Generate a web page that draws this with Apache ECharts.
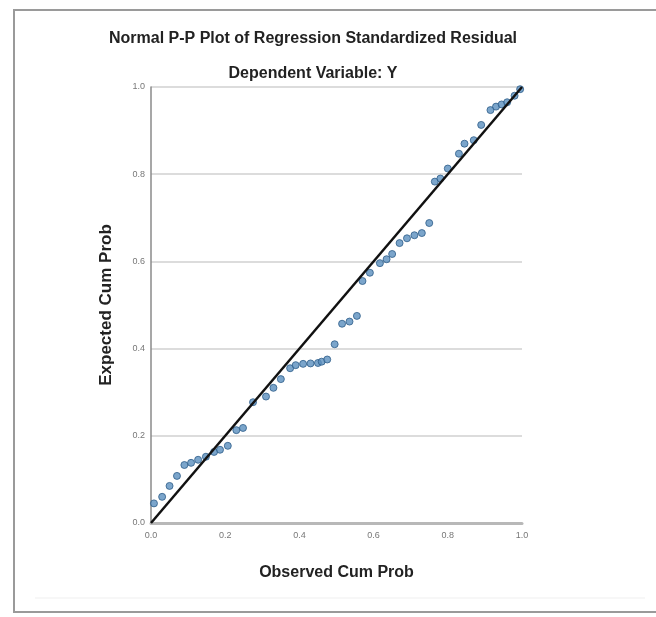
<!DOCTYPE html>
<html>
<head>
<meta charset="utf-8">
<script src="https://cdn.jsdelivr.net/npm/echarts@6/dist/echarts.min.js"></script>
<style>
  html, body { margin: 0; padding: 0; background: #fff; }
  #chart { width: 656px; height: 617px; }
</style>
</head>
<body>
<div id="chart"></div>
<script>
// Normal P-P plot data
const observed = [0.008, 0.03, 0.05, 0.07, 0.09, 0.108, 0.127, 0.148, 0.17, 0.186,
  0.207, 0.23, 0.248, 0.275, 0.31, 0.33, 0.35, 0.375, 0.39, 0.41,
  0.43, 0.45, 0.46, 0.475, 0.495, 0.515, 0.535, 0.555, 0.57, 0.59,
  0.617, 0.635, 0.65, 0.67, 0.69, 0.71, 0.73, 0.75, 0.765, 0.78,
  0.80, 0.83, 0.845, 0.87, 0.89, 0.915, 0.93, 0.945, 0.96, 0.98, 0.995];
const expected = [0.045, 0.06, 0.085, 0.108, 0.133, 0.138, 0.145, 0.152, 0.163, 0.168,
  0.177, 0.213, 0.218, 0.277, 0.29, 0.31, 0.33, 0.355, 0.362, 0.365,
  0.366, 0.367, 0.37, 0.375, 0.41, 0.457, 0.462, 0.475, 0.555, 0.574,
  0.596, 0.605, 0.617, 0.642, 0.653, 0.66, 0.665, 0.688, 0.783, 0.79,
  0.813, 0.847, 0.87, 0.878, 0.913, 0.947, 0.955, 0.96, 0.965, 0.98, 0.995];
const refLine = [[0, 0], [1, 1]];
const tickLabels = ['0.0', '0.2', '0.4', '0.6', '0.8', '1.0'];

const chart = echarts.init(document.getElementById('chart'));

const labelFmt = (v) => tickLabels[Math.round(v * 5)] || '';

const option = {
  animation: false,
  backgroundColor: '#fff',
  title: [
    {
      text: 'Normal P-P Plot of Regression Standardized Residual',
      left: 308, top: 26, textAlign: 'center',
      textStyle: { fontFamily: 'Liberation Sans', fontSize: 16, fontWeight: 'bold', color: '#222' }
    },
    {
      text: 'Dependent Variable: Y',
      left: 308, top: 61, textAlign: 'center',
      textStyle: { fontFamily: 'Liberation Sans', fontSize: 16, fontWeight: 'bold', color: '#222' }
    }
  ],
  graphic: [
    { type: 'polyline', shape: { points: [[656, 10], [14, 10], [14, 612], [656, 612]] },
      style: { fill: null, stroke: '#9a9a9a', lineWidth: 2 } },
    { type: 'line', shape: { x1: 35, y1: 598, x2: 645, y2: 598 },
      style: { stroke: '#efefef', lineWidth: 1 } }
  ],
  grid: { left: 151, right: 134, top: 87, bottom: 94 },
  xAxis: {
    type: 'value', min: 0, max: 1, interval: 0.2,
    name: 'Observed Cum Prob', nameLocation: 'middle', nameGap: 42,
    nameTextStyle: { fontFamily: 'Liberation Sans', fontSize: 16, fontWeight: 'bold', color: '#222' },
    axisLine: { lineStyle: { color: '#b8b8b8', width: 3 } },
    axisTick: { show: false },
    splitLine: { show: false },
    axisLabel: { formatter: labelFmt, fontSize: 9, color: '#777', margin: 8 }
  },
  yAxis: {
    type: 'value', min: 0, max: 1, interval: 0.2,
    name: 'Expected Cum Prob', nameLocation: 'middle', nameGap: 36,
    nameTextStyle: { fontFamily: 'Liberation Sans', fontSize: 17, fontWeight: 'bold', color: '#222' },
    axisLine: { show: true, lineStyle: { color: '#8a8a8a', width: 1.5 } },
    axisTick: { show: false },
    splitLine: { show: true, lineStyle: { color: '#dcdcdc', width: 2 } },
    axisLabel: { formatter: labelFmt, fontSize: 9, color: '#777', margin: 6 }
  },
  series: [
    {
      type: 'scatter',
      data: observed.map((x, i) => [x, expected[i]]),
      symbol: 'circle',
      symbolSize: 7,
      itemStyle: { color: '#5a8fbe', borderColor: '#2d5d88', borderWidth: 1 },
      z: 2
    },
    {
      type: 'line',
      data: refLine,
      symbol: 'none',
      lineStyle: { color: '#111', width: 2.5 },
      z: 3
    }
  ]
};

chart.setOption(option);
window.addEventListener('resize', () => chart.resize());
</script>
</body>
</html>
